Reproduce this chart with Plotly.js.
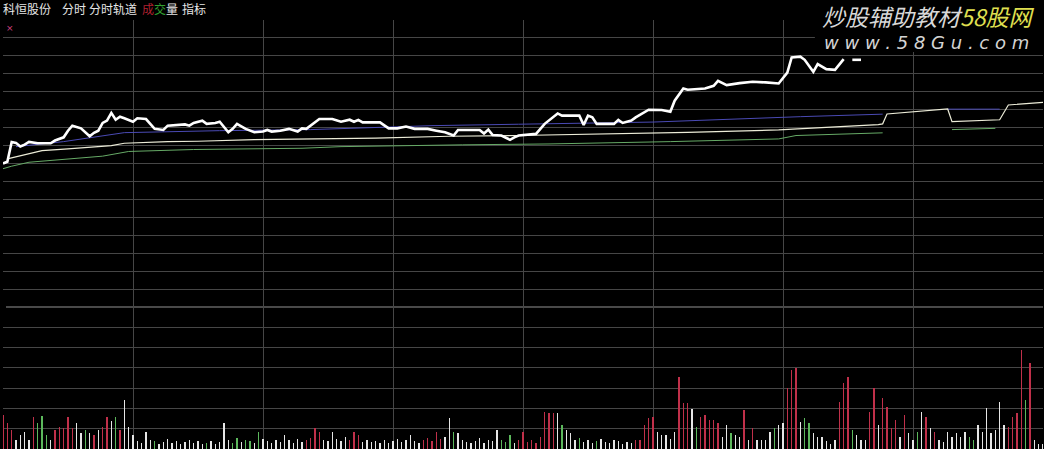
<!DOCTYPE html>
<html>
<head>
<meta charset="utf-8">
<script src="https://cdn.plot.ly/plotly-3.0.1.min.js"></script>
<style>
html,body{margin:0;padding:0;background:#000;}
#chart{width:1044px;height:449px;}
</style>
</head>
<body>
<div id="chart"></div>
<script>
// ---- intraday price (minute index 0..240) ----
const priceMin = [0,1,2,3,4,5,6,8,11,12,14,15,16,18,20,21,22,23,24,25,26,27,28,30,31,33,35,37,38,40,42,43,44,46,47,49,50,52,53,54,56,58,60,61,62,64,66,68,69,70,72,73,76,78,80,81,82,83,87,89,91,93,95,98,100,102,104,105,110,111,112,113,115,117,118,119,123,125,128,129,133,134,135,136,137,141,142,143,145,146,149,152,154,155,157,158,162,164,165,167,170,173,176,179,181,182,184,185,187,188,190,192,194,195,196,198];
const priceVal = [20.80,20.81,20.92,20.915,20.895,20.905,20.92,20.913,20.913,20.928,20.946,20.983,21.011,20.996,20.952,20.971,20.983,21.026,21.039,21.082,21.044,21.061,21.052,21.033,21.052,21.048,20.993,20.987,21.011,21.015,21.018,21.011,21.026,21.039,21.021,21.026,21.033,20.974,20.993,21.021,20.993,20.974,20.978,20.987,20.978,20.983,20.993,20.978,20.996,20.993,21.033,21.048,21.048,21.033,21.044,21.033,21.043,21.029,21.029,20.996,20.996,21.006,20.993,20.993,20.983,20.974,20.956,20.987,20.987,20.967,20.989,20.959,20.956,20.932,20.946,20.956,20.965,21.021,21.079,21.067,21.067,21.015,21.067,21.057,21.021,21.021,21.043,21.026,21.039,21.057,21.100,21.098,21.089,21.150,21.218,21.211,21.218,21.233,21.261,21.237,21.248,21.256,21.252,21.246,21.307,21.391,21.396,21.378,21.311,21.354,21.326,21.322,21.382,null,21.378,21.378];

// ---- track: upper (blue) ----
const upMin = [3,14,28,50,71,99,119,150,184,203,210,218,230];
const upVal = [20.894,20.922,20.972,20.983,20.989,21.011,21.019,21.031,21.061,21.075,null,21.103,21.103];
// ---- track: middle (white) ----
const midMin = [1,7,9,15,25,28,38,45,58,72,86,103,119,158,179,202,203,204,218,219,230,232,240];
const midVal = [20.826,20.863,20.872,20.882,20.900,20.913,20.922,20.924,20.933,20.937,20.941,20.952,20.956,20.974,20.987,21.017,21.021,21.076,21.104,21.033,21.044,21.126,21.141];
// ---- track: lower (green) ----
const lowMin = [0,2,6,9,23,29,44,69,78,106,119,126,154,179,183,203,210,219,229];
const lowVal = [20.771,20.785,20.807,20.813,20.841,20.867,20.878,20.885,20.894,20.904,20.906,20.909,20.922,20.937,20.956,20.971,null,20.989,20.996];

// ---- volume per minute (lots) ----
const volume = [
1700,1300,950,450,700,850,450,1600,1300,1650,
700,450,950,1100,1050,1600,1050,1300,800,950,
800,700,950,1100,1600,1400,1600,950,2450,1100,
700,400,300,850,450,400,250,350,500,300,
400,250,350,450,300,400,250,300,400,250,
350,1300,450,300,550,350,450,400,300,850,
500,400,300,450,350,700,450,300,500,350,
450,550,1050,850,450,400,850,500,400,600,
450,850,700,350,450,350,400,300,450,300,
400,500,350,450,700,400,300,450,550,400,
850,500,600,1550,850,800,450,350,300,400,
550,300,450,400,950,450,350,700,300,450,
850,350,450,300,600,1850,1800,1800,1800,1200,
950,800,450,550,350,450,300,400,500,350,
300,450,400,250,350,300,450,450,1200,1550,
1600,850,700,700,500,850,3600,2300,2300,2000,
1100,1600,1700,1450,1450,1300,600,1200,800,700,
600,1950,450,1050,450,450,450,850,1050,1200,
1300,3050,3950,4050,1350,1550,1300,800,600,600,
400,250,450,2350,3300,3600,950,700,450,450,
1850,3050,1200,2550,2100,1050,1450,600,1700,800,
450,850,1850,1600,1050,850,450,350,850,600,
800,600,850,600,450,1200,850,2050,800,950,
2350,1200,1100,1600,1800,4950,2450,4300,450,250,
250];
// r = up (red), g = down (green), w = flat (white)
const volDir = ("rrrwwwwrgg"+"gwrrrrrwwg"+"wrwrrwgrww"+"wwwwwgwwww"+"wwwwwwwgww"+
  "wwwggwggwg"+"wwwwwwwwww"+"rrrrwwwwww"+"rrrwwwwwww"+"wwwwwwwrrr"+
  "rrwwgwwwww"+"wwwwwgggwr"+"rrrrrrrrwg"+"wwwgwwwgww"+"wwwwwwrrrr"+
  "rwwwwwrrrw"+"grrrrrwwgw"+"wrwrwwwwgw"+"wrrrwggwww"+"wwwrrrgwww"+
  "rrwrrrrwrw"+"wgwrwrwwww"+"wwwggwwwww"+"wwrrrrgrww"+"w").split('');

const W = 1044, H = 449;
const px = x => x / W;
const py = y => 1 - y / H;

const minutes = volume.map((_, i) => i);
const colorMap = {r: '#c0304a', g: '#5cb85c', w: '#e6e6e6'};
const volColors = volDir.map(c => colorMap[c]);

const grid = '#464646';
const traces = [
  {x: upMin, y: upVal, type: 'scatter', mode: 'lines', line: {color: '#4a4ab4', width: 1}, xaxis: 'x', yaxis: 'y', hoverinfo: 'skip'},
  {x: lowMin, y: lowVal, type: 'scatter', mode: 'lines', line: {color: '#66aa66', width: 1}, xaxis: 'x', yaxis: 'y', hoverinfo: 'skip'},
  {x: midMin, y: midVal, type: 'scatter', mode: 'lines', line: {color: '#ececd8', width: 1.2}, xaxis: 'x', yaxis: 'y', hoverinfo: 'skip'},
  {x: priceMin, y: priceVal, type: 'scatter', mode: 'lines', line: {color: '#ffffff', width: 2.6}, connectgaps: false, xaxis: 'x', yaxis: 'y', hoverinfo: 'skip'},
  {x: minutes, y: volume, type: 'bar', width: 0.36, marker: {color: volColors, line: {width: 0}}, xaxis: 'x', yaxis: 'y2', hoverinfo: 'skip'}
];

const axisCommon = {showticklabels: false, ticks: '', zeroline: false, showline: false, showgrid: true, gridcolor: grid, gridwidth: 1, fixedrange: true};
const splitY = 307;

const cjk = '"Noto Sans CJK SC", "Noto Sans", sans-serif';
const annotations = [
  {text: '科恒股份', x: px(-2), y: py(9), font: {color: '#e6e6e6', size: 12, family: cjk}},
  {text: '分时', x: px(57), y: py(9), font: {color: '#e6e6e6', size: 12, family: cjk}},
  {text: '分时轨道', x: px(84), y: py(9), font: {color: '#e6e6e6', size: 12, family: cjk}},
  {text: '成', x: px(138), y: py(9), font: {color: '#b02030', size: 12, family: cjk}},
  {text: '交', x: px(150), y: py(9), font: {color: '#30a030', size: 12, family: cjk}},
  {text: '量', x: px(162), y: py(9), font: {color: '#e6e6e6', size: 12, family: cjk}},
  {text: '指标', x: px(178), y: py(9), font: {color: '#e6e6e6', size: 12, family: cjk}},
  {text: '×', x: px(1), y: py(28), font: {color: '#d04080', size: 9, family: 'DejaVu Sans'}},
  {text: '<i>炒股辅助教材<span style="color:#e0e050">58股网</span></i>', x: px(820), y: py(16), font: {color: '#d8d8d8', size: 23, family: cjk}},
  {text: '<i>w w w . 5 8 G u . c o m</i>', x: px(822), y: py(43), font: {color: '#d4d4d4', size: 18, family: '"DejaVu Sans", sans-serif'}}
].map(a => Object.assign({xref: 'paper', yref: 'paper', xanchor: 'left', yanchor: 'middle', showarrow: false}, a));

const layout = {
  width: W, height: H,
  margin: {l: 3, r: 1, t: 0, b: 0, pad: 0},
  paper_bgcolor: '#000000', plot_bgcolor: '#000000',
  showlegend: false,
  bargap: 0,
  xaxis: Object.assign({}, axisCommon, {range: [0, 240], tick0: 0, dtick: 30, anchor: 'y2'}),
  yaxis: Object.assign({}, axisCommon, {domain: [py(splitY), py(20)], range: [20.0, 21.6], tick0: 20.0, dtick: 0.1}),
  yaxis2: Object.assign({}, axisCommon, {domain: [0, py(splitY)], range: [0, 7100], tick0: 0, dtick: 7100 / 7}),
  shapes: [
    {type: 'line', xref: 'paper', yref: 'paper', x0: px(3), x1: 1, y0: py(splitY), y1: py(splitY), line: {color: '#626262', width: 1.5}, layer: 'below'},
    {type: 'rect', xref: 'paper', yref: 'paper', x0: px(815), x1: 1, y0: py(52), y1: 1, fillcolor: '#000000', line: {width: 0}, layer: 'above'}
  ],
  annotations: annotations
};

Plotly.newPlot('chart', traces, layout, {staticPlot: true, displayModeBar: false});
</script>
</body>
</html>
